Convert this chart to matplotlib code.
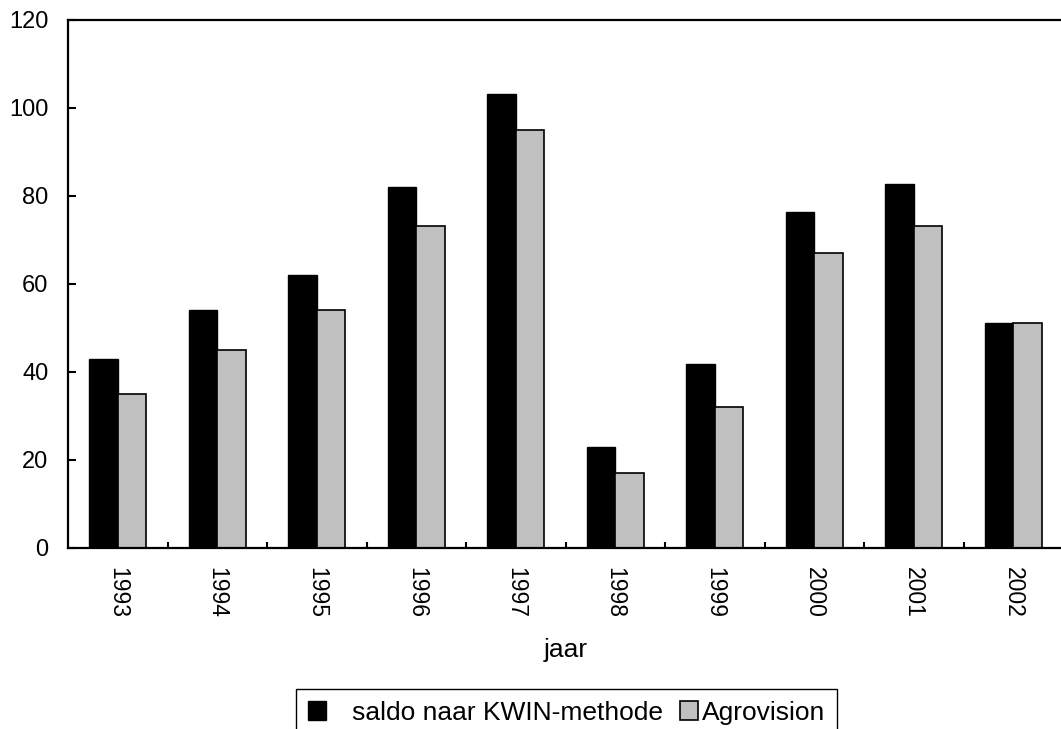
import matplotlib
matplotlib.use('Agg')
import matplotlib.pyplot as plt
import numpy as np

plt.rcParams['font.family'] = ['Liberation Sans', 'DejaVu Sans']

jaren = ['1993', '1994', '1995', '1996', '1997', '1998', '1999', '2000', '2001', '2002']
kwin = [43, 54, 62, 82, 103, 23, 41.7, 76.3, 82.7, 51]
agrovision = [35, 45, 54, 73, 95, 17, 32, 67, 73, 51]

fig = plt.figure(figsize=(10.61, 7.29), dpi=100)
ax = fig.add_axes([68 / 1061, 1 - 548 / 729, 995 / 1061, (548 - 19.5) / 729])

x = np.arange(len(jaren))
w = 0.285
ax.bar(x - w / 2, kwin, width=w, color='black', edgecolor='black', linewidth=1.0,
       label='   saldo naar KWIN-methode')
ax.bar(x + w / 2, agrovision, width=w, color='#c0c0c0', edgecolor='black', linewidth=1.2,
       label='Agrovision')

ax.set_xlim(-0.5, len(jaren) - 0.5)
ax.set_ylim(0, 120)
ax.set_yticks(range(0, 121, 20))

ax.set_xticks(x)
ax.set_xticklabels(jaren, rotation=-90, fontsize=16.5)
ax.set_xticks(np.arange(0.5, len(jaren) - 0.5, 1), minor=True)
ax.tick_params(axis='x', which='major', length=0, pad=14)
ax.tick_params(axis='x', which='minor', direction='in', length=4.5, width=1.5)
ax.tick_params(axis='y', direction='in', length=5.5, width=1.5, pad=14, labelsize=17)

for s in ['left', 'bottom', 'top']:
    ax.spines[s].set_linewidth(1.6)
ax.spines['right'].set_visible(False)

ax.set_xlabel('jaar', fontsize=19, labelpad=14)

fig.legend(loc='upper left', bbox_to_anchor=(296 / 1061, 1 - 689 / 729), ncol=2,
           fontsize=19, frameon=True, fancybox=False, edgecolor='black', framealpha=1,
           handlelength=0.7, handleheight=0.7, handletextpad=0.15, columnspacing=0.62,
           borderpad=0.45, borderaxespad=0)

fig.savefig('out.png', dpi=100)
